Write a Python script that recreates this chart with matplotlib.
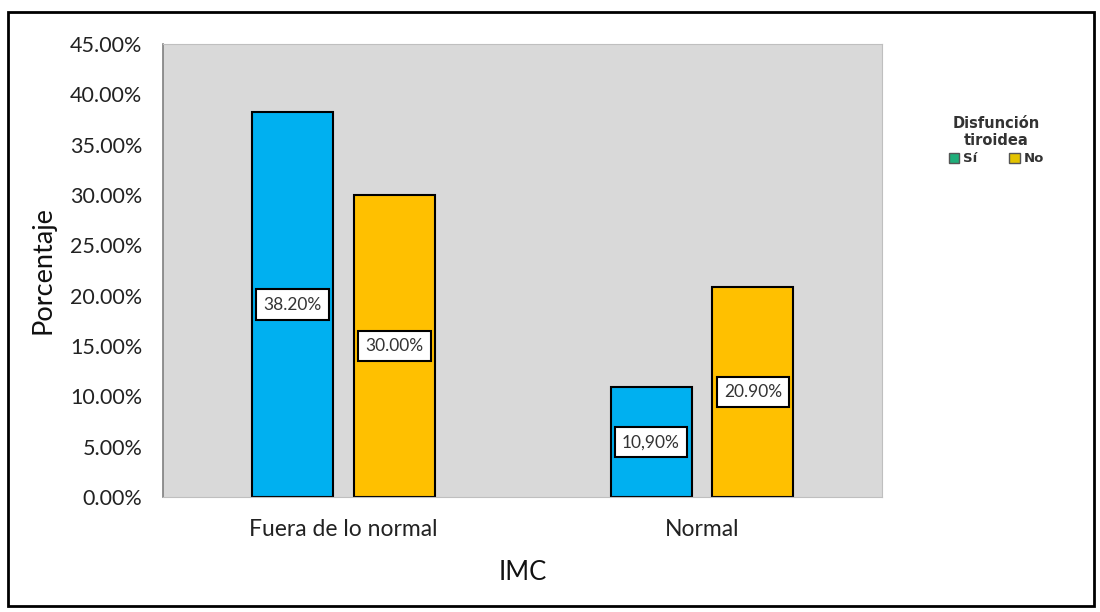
import matplotlib.pyplot as plt
from matplotlib.patches import Rectangle, Patch
import numpy as np

plt.rcParams['font.family'] = ['Lato', 'DejaVu Sans']

# IMC groups and share of patients with / without thyroid dysfunction
categories = ["Fuera de lo normal", "Normal"]
si_values = [38.20, 10.90]
no_values = [30.00, 20.90]
si_labels = ["38.20%", "10,90%"]
no_labels = ["30.00%", "20.90%"]
y_ticks = [0, 5, 10, 15, 20, 25, 30, 35, 40, 45]

blue = "#00b0f0"
orange = "#ffc000"

fig = plt.figure(figsize=(11, 6.12), dpi=100)
fig.patch.set_facecolor("white")

# outer frame around the whole chart
fig.patches.append(Rectangle((8 / 1100, 6 / 612), 1086 / 1100, 594 / 612,
                             transform=fig.transFigure, fill=False,
                             edgecolor="black", linewidth=2))

ax = fig.add_axes([0.1482, 0.1879, 0.6536, 0.7402])
ax.set_facecolor("#d9d9d9")

x = np.arange(len(categories))
width = 0.226
offset = 0.142

bars_si = ax.bar(x - offset, si_values, width, color=blue, edgecolor="black", linewidth=1.5)
bars_no = ax.bar(x + offset, no_values, width, color=orange, edgecolor="black", linewidth=1.5)

# value labels sit halfway up each bar
for bars, vals, labels in ((bars_si, si_values, si_labels), (bars_no, no_values, no_labels)):
    for b, v, lab in zip(bars, vals, labels):
        ax.text(b.get_x() + b.get_width() / 2, v / 2, lab,
                ha="center", va="center", fontsize=12.5, color="#333333",
                bbox=dict(boxstyle="square,pad=0.42", facecolor="white",
                          edgecolor="black", linewidth=1.5))

ax.set_xlim(-0.503, 1.502)
ax.set_ylim(0, 45)
ax.set_yticks(y_ticks)
ax.set_yticklabels([f"{t:.2f}%" for t in y_ticks], fontsize=15.5, color="#222222")
ax.set_xticks(x)
ax.set_xticklabels(categories, fontsize=16.5, color="#222222")
ax.tick_params(axis="both", length=0)
ax.tick_params(axis="y", pad=15)
ax.tick_params(axis="x", pad=16)

for side in ("top", "right", "bottom"):
    ax.spines[side].set_color("#bfbfbf")
    ax.spines[side].set_linewidth(0.8)
ax.spines["left"].set_color("#7f7f7f")
ax.spines["left"].set_linewidth(1.2)

ax.set_ylabel("Porcentaje", fontsize=19.5, color="#111111", labelpad=10)
ax.set_xlabel("IMC", fontsize=18.5, color="#111111", labelpad=14)

handles = [Patch(facecolor="#1fae7a", edgecolor="#555555", label="Sí"),
           Patch(facecolor="#e3c300", edgecolor="#555555", label="No")]
leg = fig.legend(handles=handles, title="Disfunción\ntiroidea", ncol=2,
                 loc="center", bbox_to_anchor=(0.906, 0.77), frameon=False,
                 prop=dict(family="DejaVu Sans", weight="bold", size=9.5),
                 handlelength=0.8, handleheight=0.8, handletextpad=0.3,
                 columnspacing=2.4, labelspacing=0.3)
leg.get_title().set_fontfamily("DejaVu Sans")
leg.get_title().set_fontweight("bold")
leg.get_title().set_fontsize(10.5)
leg.get_title().set_color("#333333")
leg.get_title().set_multialignment("center")
for t in leg.get_texts():
    t.set_color("#333333")

fig.savefig("out.png", dpi=100)
